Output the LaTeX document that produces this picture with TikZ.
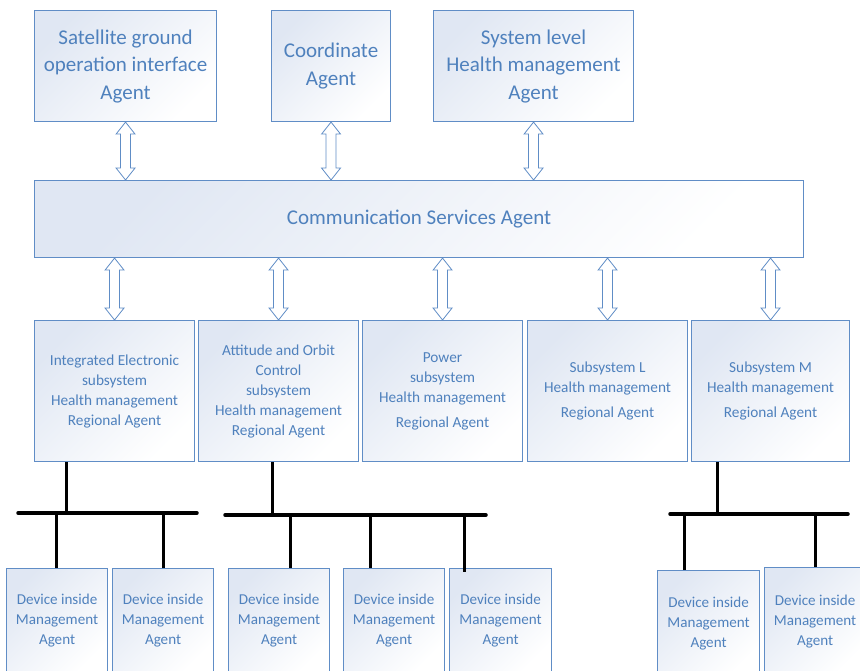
\documentclass[tikz,border=0pt]{standalone}
\usepackage{fontspec}
\setmainfont{Carlito}
\usetikzlibrary{calc}

\definecolor{agentblue}{RGB}{79,129,189}
\definecolor{agentedge}{RGB}{96,141,198}
\definecolor{agenttint}{RGB}{224,231,243}

\tikzset{
  agent/.style={draw=agentedge, line width=1.1pt, top color=agenttint,
    bottom color=white, shading angle=45, text=agentblue, align=center,
    anchor=north west, inner sep=0pt},
  bigtext/.style={font=\fontsize{21}{27.5}\selectfont},
  midtext/.style={font=\fontsize{15.3}{20}\selectfont},
  devtext/.style={font=\fontsize{15.1}{20.3}\selectfont},
  link/.style={draw=agentedge, line width=0.8pt, fill=white, line join=miter},
  busline/.style={line width=3.5pt, line cap=round, black},
  tap/.style={line width=3pt, black}
}

% hollow two-headed block arrow between two points on one vertical
\newcommand\dblarrow[2]{%
  \draw[link] let \p1=(#1), \p2=(#2) in
    (\x1,\y1) -- (\x1+9.5pt,\y1-12pt) -- (\x1+5pt,\y1-12pt)
    -- (\x1+5pt,\y2+12pt) -- (\x1+9.5pt,\y2+12pt) -- (\x1,\y2)
    -- (\x1-9.5pt,\y2+12pt) -- (\x1-5pt,\y2+12pt)
    -- (\x1-5pt,\y1-12pt) -- (\x1-9.5pt,\y1-12pt) -- cycle;}

\begin{document}
\begin{tikzpicture}[x=1pt,y=-1pt]
\useasboundingbox (0,0) rectangle (860,671);

% top level agents
\node[agent,bigtext,minimum width=182pt,minimum height=111pt] (ground) at (34,10)
  {Satellite ground\\operation interface\\Agent};
\node[agent,bigtext,minimum width=119pt,minimum height=111pt] (coord) at (271,10)
  {Coordinate\\Agent};
\node[agent,bigtext,minimum width=200pt,minimum height=111pt] (syshm) at (433,10)
  {System level\\Health management\\Agent};

% communication layer
\node[agent,bigtext,minimum width=769pt,minimum height=77pt] (comm) at (34,180)
  {Communication Services Agent};

% regional agents
\node[agent,midtext,minimum width=160pt,minimum height=141pt] (ie) at (34,320)
  {Integrated Electronic\\subsystem\\Health management\\Regional Agent};
\node[agent,midtext,minimum width=160pt,minimum height=141pt] (aoc) at (198,320)
  {Attitude and Orbit\\Control\\subsystem\\Health management\\Regional Agent};
\node[agent,midtext,minimum width=160pt,minimum height=141pt] (pwr) at (362,320)
  {Power\\subsystem\\Health management\\[5pt]Regional Agent};
\node[agent,midtext,minimum width=160pt,minimum height=141pt] (subl) at (527,320)
  {Subsystem L\\Health management\\[5pt]Regional Agent};
\node[agent,midtext,minimum width=158pt,minimum height=141pt] (subm) at (691,320)
  {Subsystem M\\Health management\\[5pt]Regional Agent};

% device agents
\node[agent,devtext,minimum width=101pt,minimum height=104pt] (dev1) at (6,568)
  {Device inside\\Management\\Agent};
\node[agent,devtext,minimum width=101pt,minimum height=104pt] (dev2) at (112,568)
  {Device inside\\Management\\Agent};
\node[agent,devtext,minimum width=101pt,minimum height=104pt] (dev3) at (228,568)
  {Device inside\\Management\\Agent};
\node[agent,devtext,minimum width=101pt,minimum height=104pt] (dev4) at (343,568)
  {Device inside\\Management\\Agent};
\node[agent,devtext,minimum width=102pt,minimum height=104pt] (dev5) at (449,568)
  {Device inside\\Management\\Agent};
\node[agent,devtext,minimum width=102pt,minimum height=106pt] (dev6) at (657,570)
  {Device inside\\Management\\Agent};
\node[agent,devtext,minimum width=101pt,minimum height=108pt] (dev7) at (764,567)
  {Device inside\\Management\\Agent};

% links to the communication layer
\dblarrow{ground.south}{comm.north -| ground.south}
\dblarrow{coord.south}{comm.north -| coord.south}
\dblarrow{syshm.south}{comm.north -| syshm.south}
\dblarrow{comm.south -| ie.north}{ie.north}
\dblarrow{comm.south -| aoc.north}{aoc.north}
\dblarrow{comm.south -| pwr.north}{pwr.north}
\dblarrow{comm.south -| subl.north}{subl.north}
\dblarrow{comm.south -| subm.north}{subm.north}

% device buses
\coordinate (busAl) at (18,513);  \coordinate (busAr) at (197,513);
\coordinate (stemA) at (66,513);
\coordinate (tapA1) at (56,513);  \coordinate (tapA2) at (163,513);
\draw[busline] (busAl) -- (busAr);
\draw[tap] (stemA |- ie.south) -- (stemA);
\draw[tap] (tapA1) -- (tapA1 |- dev1.north);
\draw[tap] (tapA2) -- (tapA2 |- dev2.north);

\coordinate (busBl) at (225,515); \coordinate (busBr) at (486,515);
\coordinate (stemB) at (272,515);
\coordinate (tapB1) at (290,515); \coordinate (tapB2) at (370,515);
\coordinate (tapB3) at (464,515);
\draw[busline] (busBl) -- (busBr);
\draw[tap] (stemB |- aoc.south) -- (stemB);
\draw[tap] (tapB1) -- (tapB1 |- dev3.north);
\draw[tap] (tapB2) -- (tapB2 |- dev4.north);
\draw[tap] (tapB3) -- ($(tapB3 |- dev5.north)+(0,4)$);

\coordinate (busCl) at (670,514); \coordinate (busCr) at (848,514);
\coordinate (stemC) at (717,514);
\coordinate (tapC1) at (684,514); \coordinate (tapC2) at (815,514);
\draw[busline] (busCl) -- (busCr);
\draw[tap] (stemC |- subm.south) -- (stemC);
\draw[tap] (tapC1) -- (tapC1 |- dev6.north);
\draw[tap] (tapC2) -- (tapC2 |- dev7.north);
\end{tikzpicture}
\end{document}
